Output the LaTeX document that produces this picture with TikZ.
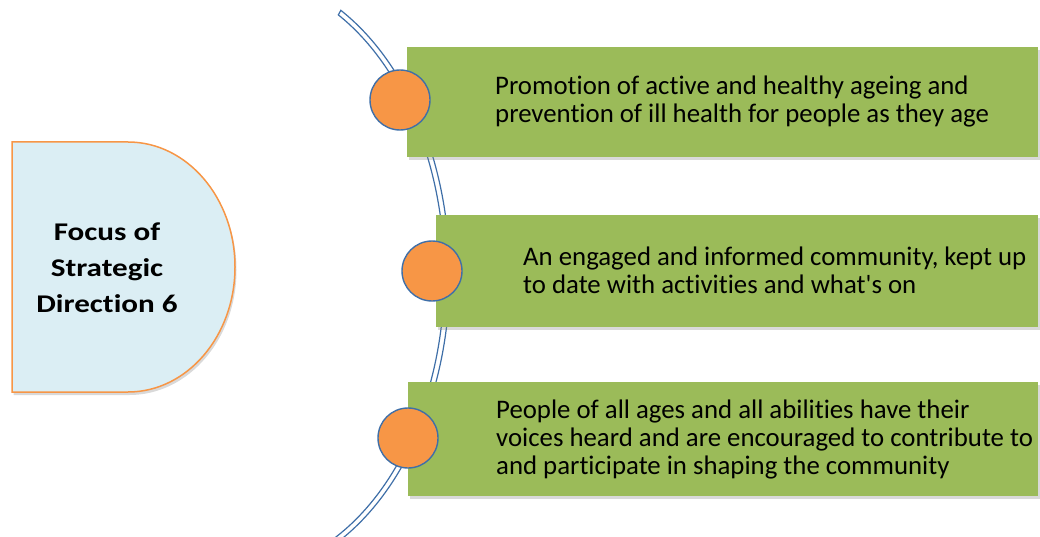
\documentclass[tikz,border=0pt]{standalone}
\usepackage{fontspec}
\setmainfont{Carlito}[Ligatures={TeXOff,NoCommon}]
\usetikzlibrary{shadows}
\definecolor{leafgreen}{HTML}{9BBB59}
\definecolor{dotorange}{HTML}{F79646}
\definecolor{ringblue}{HTML}{3F6FA8}
\definecolor{paleblue}{HTML}{DBEEF4}
\tikzset{
  softshadow/.style={drop shadow={shadow xshift=1.5pt, shadow yshift=-3pt, opacity=0.3}},
  itembox/.style={fill=leafgreen, draw=none, softshadow, anchor=north west, inner sep=0pt},
  dot/.style={circle, fill=dotorange, draw=ringblue, line width=1.4pt, minimum size=60pt, inner sep=0pt},
  itemtext/.style={anchor=west, align=left, font=\fontsize{26.8}{28}\selectfont, inner sep=0pt},
}
\begin{document}
\begin{tikzpicture}[x=1pt,y=-1pt]
\useasboundingbox (0,0) rectangle (1040,537);
% curved double band
\draw[ringblue, line width=1.2pt, fill=white]
  ([shift={(238.5,275)}]-61:211.1 and 302.6) arc[start angle=-61, end angle=63, x radius=211.1, y radius=302.6]
  -- ([shift={(238.5,275)}]63:205.9 and 297.4) arc[start angle=63, end angle=-61, x radius=205.9, y radius=297.4] -- cycle;
% left shape
\draw[dotorange, line width=1.5pt, fill=paleblue, softshadow]
  (12,142) -- (128,142) arc[start angle=-90, end angle=90, x radius=107, y radius=125] -- (12,392) -- cycle;
\node[align=center, font=\bfseries\fontsize{25.5}{36}\selectfont, inner sep=0pt, transform shape, xscale=1.22] (focus) at (107,268) {Focus of\\Strategic\\Direction 6};
% boxes
\node[itembox, minimum width=631pt, minimum height=110pt] (r1) at (407,47) {};
\node[itembox, minimum width=602pt, minimum height=112pt] (r2) at (436,215) {};
\node[itembox, minimum width=630pt, minimum height=114pt] (r3) at (408,382) {};
\node[dot] (c1) at (400,100) {};
\node[dot] (c2) at (432,271) {};
\node[dot] (c3) at (408,438) {};
\node[itemtext] (t1) at (495,102) {Promotion of active and healthy ageing and\\prevention of ill health for people as they age};
\node[itemtext] (t2) at (523,270) {An engaged and informed community, kept up\\to date with activities and what's on};
\node[itemtext] (t3) at (496,439) {People of all ages and all abilities have their\\voices heard and are encouraged to contribute to\\and participate in shaping the community};
\end{tikzpicture}
\end{document}
